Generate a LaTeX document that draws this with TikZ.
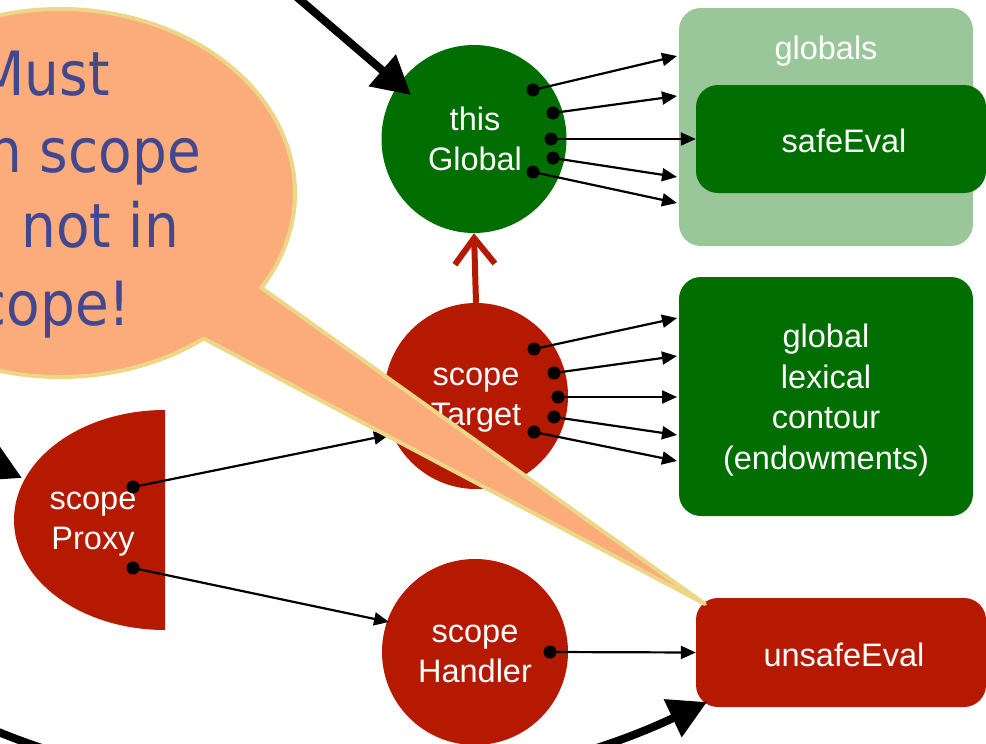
\documentclass[tikz,border=0pt]{standalone}
\usepackage{fontspec}
\setmainfont{Liberation Sans}
\newfontfamily\bubblefont[FakeStretch=0.9]{DejaVu Sans}
\usetikzlibrary{arrows.meta,shapes.geometric,calc}

\definecolor{leafgreen}{RGB}{0,110,0}
\definecolor{palegreen}{RGB}{153,199,153}
\definecolor{brick}{RGB}{181,25,0}
\definecolor{peach}{RGB}{252,171,122}
\definecolor{straw}{RGB}{236,215,135}
\definecolor{ink}{RGB}{65,72,143}

\tikzset{
  label/.style={text=white, align=center, inner sep=0pt,
    font=\fontsize{32.5}{40.5}\selectfont},
  objnode/.style={ellipse, fill=#1, inner sep=0pt},
  boxnode/.style={rounded corners=22pt, fill=#1, inner sep=0pt},
  prop/.style={line width=2.2pt, -{Triangle[length=15pt,width=13pt]}},
  dot/.style={fill=black},
  heavy/.style={line width=8pt, -{Triangle[length=38pt,width=40pt]}},
  protolink/.style={draw=brick, line width=6pt, -{Straight Barb[length=26pt,width=40pt]}},
  bubble/.style={fill=peach, draw=straw, line width=4pt, line join=round},
  saying/.style={text=ink, inner sep=0pt, anchor=base east,
    font={\bubblefont\fontsize{61}{77}\selectfont}},
}

\begin{document}
\begin{tikzpicture}[x=1pt, y=-1pt]
  \useasboundingbox (0,0) rectangle (986,744);
  \fill[white] (0,0) rectangle (986,744);
  \clip (0,0) rectangle (986,744);

  % property tables
  \node[boxnode=palegreen, minimum width=294pt, minimum height=238pt] (globals) at (826,127) {};
  \node[label] (globalsname) at (826,51) {globals};
  \node[boxnode=leafgreen, minimum width=290pt, minimum height=108pt] (safe) at (841,139) {};
  \node[label] (safename) at (844,141) {safeEval};
  \node[boxnode=leafgreen, minimum width=294pt, minimum height=239pt] (endow) at (826,396.5) {};
  \node[label] (endowname) at (826,400) {global\\lexical\\contour\\(endowments)};
  \node[boxnode=brick, minimum width=290pt, minimum height=109pt] (unsafe) at (841,652.5) {};
  \node[label] (unsafename) at (844,655) {unsafeEval};

  % objects
  \node[objnode=leafgreen, minimum width=185pt, minimum height=188pt] (thisGlobal) at (474,139) {};
  \node[label] (thisGlobalname) at (475,139) {this\\Global};
  \node[objnode=brick, minimum width=184pt, minimum height=186pt] (scopeTarget) at (476,396) {};
  \node[label] (scopeTargetname) at (476,400) {scope\\Target};
  \node[objnode=brick, minimum width=186pt, minimum height=186pt] (scopeHandler) at (475,652) {};
  \node[label] (scopeHandlername) at (475,654) {scope\\Handler};
  \fill[brick] (165,410) -- (165,630) arc[start angle=90, end angle=270, x radius=151, y radius=110] -- cycle;
  \node[label] (scopeProxy) at (93,524) {scope\\Proxy};

  % property slots
  \coordinate (tg1) at (533,90);  \coordinate (tg2) at (553,113);
  \coordinate (tg3) at (551,139); \coordinate (tg4) at (553,158);
  \coordinate (tg5) at (533,172);
  \coordinate (gl1) at (677,56);  \coordinate (gl2) at (677,96);
  \coordinate (gl4) at (677,177); \coordinate (gl5) at (677,203);

  \coordinate (st1) at (534,349); \coordinate (st2) at (554,373);
  \coordinate (st3) at (558,397); \coordinate (st4) at (554,417);
  \coordinate (st5) at (534,432);
  \coordinate (en1) at (677,318); \coordinate (en2) at (677,356);
  \coordinate (en3) at (677,397); \coordinate (en4) at (677,435);
  \coordinate (en5) at (677,461);

  \coordinate (px1) at (133,487); \coordinate (px2) at (133,568);
  \coordinate (stIn) at (389,435); \coordinate (shIn) at (389,622);
  \coordinate (hd) at (550,652);

  \foreach \a/\b in {tg1/gl1, tg2/gl2, tg4/gl4, tg5/gl5,
                     st1/en1, st2/en2, st3/en3, st4/en4, st5/en5,
                     px1/stIn, px2/shIn}
    \draw[prop] (\a) -- (\b);
  \draw[prop] (tg3) -- (safe.west);
  \draw[prop] (hd) -- (unsafe.west);
  \foreach \p in {tg1,tg2,tg3,tg4,tg5,st1,st2,st3,st4,st5,px1,px2,hd}
    \fill[dot] (\p) circle (6.5);

  % prototype link
  \draw[protolink] (scopeTarget.north) -- (thisGlobal.south);

  % incoming references
  \coordinate (topIn) at (277,-20);
  \coordinate (globalHit) at (411,95);
  \draw[heavy] (topIn) -- (globalHit);
  \coordinate (leftIn) at (-80,429);
  \coordinate (proxyHit) at (22,478);
  \draw[heavy] (leftIn) -- (proxyHit);
  \coordinate (loopIn) at (-40,715);
  \coordinate (unsafeHit) at (707,702);
  \draw[heavy] (loopIn) .. controls (200,830) and (500,800) .. (unsafeHit);

  % speech bubble
  \draw[bubble] (203.8,338.5) -- (705,604) -- (261.4,287.8)
    arc[start angle=31, end angle=-307.7, x radius=235, y radius=184] -- cycle;
  \node[saying] (say1) at (110,95) {Must};
  \node[saying] (say2) at (201,172) {in scope};
  \node[saying] (say3) at (179,247) {and not in};
  \node[saying] (say4) at (131,325) {scope!};
\end{tikzpicture}
\end{document}
